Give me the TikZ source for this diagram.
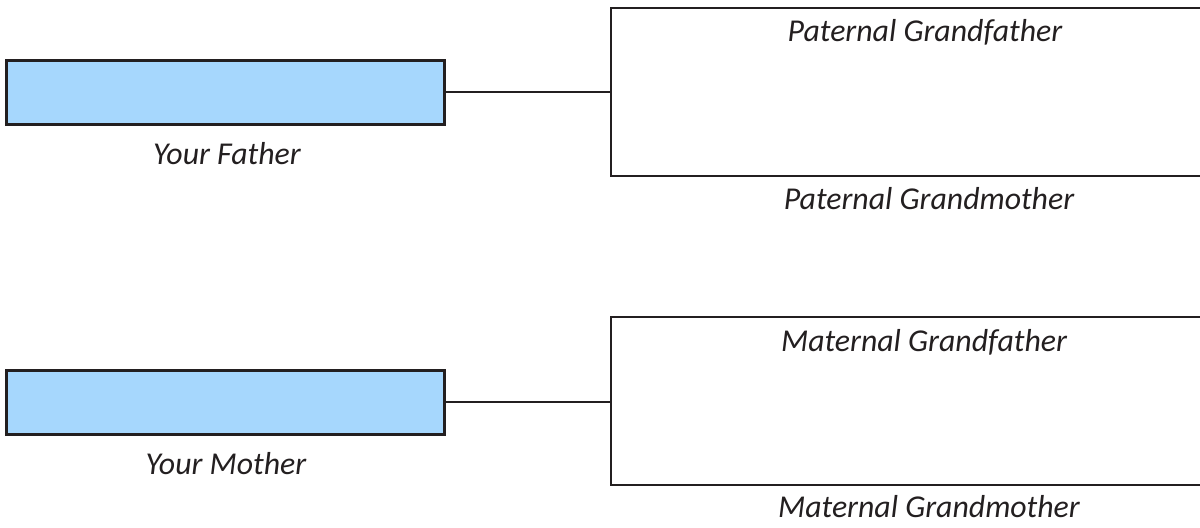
\documentclass[tikz,border=0pt]{standalone}
\usepackage{fontspec}
\setmainfont{Carlito}
\usetikzlibrary{positioning}
\definecolor{boxblue}{RGB}{166,215,253}
\definecolor{ink}{RGB}{35,31,32}

\begin{document}
\begin{tikzpicture}[x=0.5pt,y=-0.5pt,
        parent/.style={draw=ink,fill=boxblue,line width=1.3pt,minimum width=219pt,minimum height=32pt,inner sep=0pt},
        pair/.style={minimum width=294.5pt,minimum height=83.5pt,inner sep=0pt,anchor=north west},
        who/.style={font=\fontsize{15.9}{19}\selectfont\itshape,text=ink,anchor=base,inner sep=0pt},
        link/.style={draw=ink,line width=1pt}]
        \useasboundingbox (0,0) rectangle (1200,528);
        \node[parent] (father) at (225.5,92.5) {};
        \node[parent] (mother) at (225.5,402.5) {};
        \node[pair] (pat) at (611,8) {};
        \node[pair] (mat) at (611,317) {};
        \foreach \g in {pat,mat}
            \draw[link,line width=1.25pt] (\g.north east) -- (\g.north west) -- (\g.south west) -- (\g.south east);
        \draw[link] (father.east) -- (father.east -| pat.west);
        \draw[link] (mother.east) -- (mother.east -| mat.west);
        \node[who] (fathername) at (227,165) {Your Father};
        \node[who] (mothername) at (226,475) {Your Mother};
        \node[who] (patgf) at (925,42) {Paternal Grandfather};
        \node[who] (patgm) at (929,210) {Paternal Grandmother};
        \node[who] (matgf) at (924,352) {Maternal Grandfather};
        \node[who] (matgm) at (929,518) {Maternal Grandmother};
    \end{tikzpicture}
\end{document}
